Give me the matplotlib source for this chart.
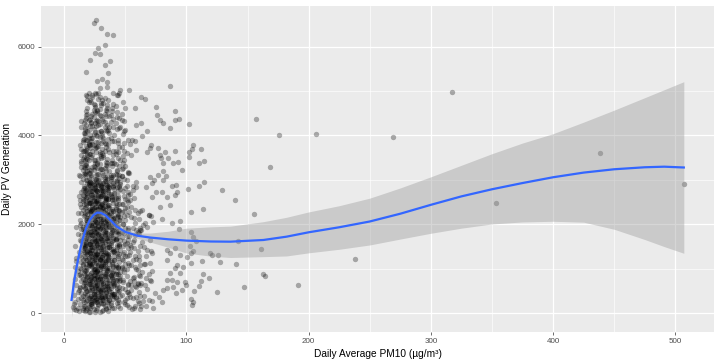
import matplotlib
matplotlib.use("Agg")
import matplotlib.pyplot as plt
from matplotlib.ticker import MultipleLocator

# Dense cloud of days (PM10 in ug/m3, daily PV generation), estimated bin by bin
# from the picture since single points cannot be told apart there.
cloud_pm10 = [
    # 7-12
    7, 8, 8, 9, 9, 10, 10, 10, 11, 11,
    11, 11, 12, 12, 12, 9, 10, 11, 12, 8,
    12, 10, 11, 12, 9,
    # 13-16
    13, 14, 15, 13, 14, 15, 16, 13, 14, 15,
    14, 15, 16, 13, 14, 15, 16, 14, 15, 16,
    13, 14, 15, 16, 13, 14, 15, 16, 14, 15,
    16, 13, 14, 15, 16, 14, 15, 16, 13, 14,
    15, 16, 14, 15, 16, 13, 14, 15, 16, 15,
    14, 16, 15, 13, 16, 14, 15, 16, 14, 15,
    16, 14, 15, 16, 13, 15, 14, 16, 15, 16,
    13, 15, 16, 14, 15, 16, 14, 13, 16, 15,
    # 17-20
    17, 18, 19, 20, 17, 18, 19, 20, 17, 18,
    19, 20, 17, 18, 19, 20, 17, 18, 19, 20,
    18, 19, 20, 17, 18, 19, 20, 17, 18, 19,
    20, 17, 18, 19, 20, 17, 18, 19, 20, 17,
    18, 19, 20, 17, 18, 19, 20, 17, 18, 19,
    20, 17, 18, 19, 20, 17, 18, 19, 20, 17,
    18, 19, 20, 17, 18, 19, 20, 17, 18, 19,
    20, 17, 18, 19, 20, 17, 18, 19, 20, 17,
    18, 19, 20, 17, 18, 19, 20, 17, 18, 19,
    20, 17, 18, 19, 20, 17, 18, 19, 20, 17,
    19, 20, 17, 18, 19, 20, 17, 18, 19, 20,
    18, 19, 20, 17, 18, 19, 20, 17, 18, 19,
    20, 17, 18, 19, 20, 17, 18, 19, 20, 18,
    17, 18, 19, 20, 17, 18, 19, 20, 17, 18,
    19, 20, 17, 18, 19, 20, 17, 18, 19, 20,
    # 21-25
    21, 22, 23, 24, 25, 21, 22, 23, 24, 25,
    21, 22, 23, 24, 25, 21, 22, 23, 24, 25,
    23, 25, 22, 24, 21, 23, 25, 22, 24, 21,
    23, 25, 22, 24, 21, 23, 25, 22, 24, 21,
    24, 21, 25, 23, 22, 24, 21, 25, 23, 22,
    24, 21, 25, 23, 22, 24, 21, 25, 23, 22,
    22, 24, 21, 25, 23, 22, 24, 21, 25, 23,
    22, 24, 21, 25, 23, 22, 24, 21, 25, 23,
    25, 23, 21, 22, 24, 25, 23, 21, 22, 24,
    25, 23, 21, 22, 24, 25, 23, 21, 22, 24,
    21, 24, 22, 25, 23, 21, 24, 22, 25, 23,
    21, 24, 22, 25, 23, 21, 24, 22, 25, 23,
    22, 23, 24, 25, 21, 22, 23, 24, 25, 21,
    22, 23, 24, 25, 21, 22, 23, 24, 25, 21,
    24, 21, 23, 25, 22, 24, 21, 23, 25, 22,
    24, 21, 23, 25, 22, 24, 21, 23, 25, 22,
    23, 22, 25, 21, 24, 23, 22, 25, 21, 24,
    23, 22, 25, 21, 24, 23, 22, 25, 21, 24,
    25, 24, 22, 23, 21, 25, 24, 22, 23, 21,
    25, 24, 22, 23, 21, 25, 24, 22, 23, 21,
    # 26-30
    26, 27, 28, 29, 30, 26, 27, 28, 29, 30,
    26, 27, 28, 29, 30, 26, 27, 28, 29, 30,
    28, 30, 27, 29, 26, 28, 30, 27, 29, 26,
    28, 30, 27, 29, 26, 28, 30, 27, 29, 26,
    29, 26, 30, 28, 27, 29, 26, 30, 28, 27,
    29, 26, 30, 28, 27, 29, 26, 30, 28, 27,
    27, 29, 26, 30, 28, 27, 29, 26, 30, 28,
    27, 29, 26, 30, 28, 27, 29, 26, 30, 28,
    30, 28, 26, 27, 29, 30, 28, 26, 27, 29,
    30, 28, 26, 27, 29, 30, 28, 26, 27, 29,
    26, 29, 27, 30, 28, 26, 29, 27, 30, 28,
    26, 29, 27, 30, 28, 26, 29, 27, 30, 28,
    27, 28, 29, 30, 26, 27, 28, 29, 30, 26,
    27, 28, 29, 30, 26, 27, 28, 29, 30, 26,
    29, 26, 28, 30, 27, 29, 26, 28, 30, 27,
    29, 26, 28, 30, 27, 29, 26, 28, 30, 27,
    28, 27, 30, 26, 29, 28, 27, 30, 26, 29,
    28, 27, 30, 26, 29, 28, 27, 30, 26, 29,
    30, 29, 27, 28, 26, 30, 29, 27, 28, 26,
    30, 29, 27, 28, 26, 30, 29, 27, 28, 26,
    # 31-35
    31, 32, 33, 34, 35, 31, 32, 33, 34, 35,
    31, 32, 33, 34, 35, 31, 32, 33, 34, 35,
    33, 35, 32, 34, 31, 33, 35, 32, 34, 31,
    33, 35, 32, 34, 31, 33, 35, 32, 34, 31,
    34, 31, 35, 33, 32, 34, 31, 35, 33, 32,
    34, 31, 35, 33, 32, 34, 31, 35, 33, 32,
    32, 34, 31, 35, 33, 32, 34, 31, 35, 33,
    32, 34, 31, 35, 33, 32, 34, 31, 35, 33,
    35, 33, 31, 32, 34, 35, 33, 31, 32, 34,
    35, 33, 31, 32, 34, 35, 33, 31, 32, 34,
    31, 34, 32, 35, 33, 31, 34, 32, 35, 33,
    31, 34, 32, 35, 33, 31, 34, 32, 35, 33,
    32, 33, 34, 35, 31, 32, 33, 34, 35, 31,
    32, 33, 34, 35, 31, 32, 33, 34, 35, 31,
    34, 31, 33, 35, 32, 34, 31, 33, 35, 32,
    34, 31, 33, 35, 32, 34, 31, 33, 35, 32,
    33, 32, 35, 31, 34, 33, 32, 35, 31, 34,
    33, 32, 35, 31, 34, 33, 32, 35, 31, 34,
    # 36-40
    36, 37, 38, 39, 40, 36, 37, 38, 39, 40,
    36, 37, 38, 39, 40, 36, 37, 38, 39, 40,
    38, 40, 37, 39, 36, 38, 40, 37, 39, 36,
    38, 40, 37, 39, 36, 38, 40, 37, 39, 36,
    39, 36, 40, 38, 37, 39, 36, 40, 38, 37,
    39, 36, 40, 38, 37, 39, 36, 40, 38, 37,
    37, 39, 36, 40, 38, 37, 39, 36, 40, 38,
    37, 39, 36, 40, 38, 37, 39, 36, 40, 38,
    40, 38, 36, 37, 39, 40, 38, 36, 37, 39,
    40, 38, 36, 37, 39, 40, 38, 36, 37, 39,
    36, 39, 37, 40, 38, 36, 39, 37, 40, 38,
    36, 39, 37, 40, 38, 36, 39, 37, 40, 38,
    37, 38, 39, 40, 36, 37, 38, 39, 40, 36,
    37, 38, 39, 40, 36, 37, 38, 39, 40, 36,
    # 41-45
    41, 42, 43, 44, 45, 41, 42, 43, 44, 45,
    41, 42, 43, 44, 45, 41, 42, 43, 44, 45,
    43, 45, 42, 44, 41, 43, 45, 42, 44, 41,
    43, 45, 42, 44, 41, 43, 45, 42, 44, 41,
    44, 41, 45, 43, 42, 44, 41, 45, 43, 42,
    44, 41, 45, 43, 42, 44, 41, 45, 43, 42,
    42, 44, 41, 45, 43, 42, 44, 41, 45, 43,
    42, 44, 41, 45, 43, 42, 44, 41, 45, 43,
    45, 43, 41, 42, 44, 45, 43, 41, 42, 44,
    45, 43, 41, 42, 44, 45, 43, 41, 42, 44,
    41, 43, 45, 42, 44, 41, 43, 45, 42, 44,
    41, 43, 45, 42, 44, 41, 43, 45, 42, 44,
    # 46-52
    46, 47, 48, 49, 50, 51, 52, 46, 47, 48,
    49, 50, 51, 52, 46, 47, 48, 49, 50, 51,
    52, 46, 47, 48, 49, 50, 51, 52, 46, 47,
    48, 49, 50, 51, 52, 46, 47, 48, 49, 50,
    51, 52, 46, 47, 48, 49, 50, 51, 52, 46,
    47, 48, 49, 50, 51, 52, 46, 47, 48, 49,
    50, 51, 52, 46, 47, 48, 49, 50, 51, 52,
    46, 47, 48, 49, 50, 51, 52, 46, 47, 48,
    49, 50, 51, 52, 46, 47, 48, 49, 50, 51,
    52, 46, 47, 48, 49, 50, 51, 52, 47, 49,
    # 53-62
    53, 54, 55, 56, 57, 58, 59, 60, 61, 62,
    54, 56, 58, 60, 62, 53, 55, 57, 59, 61,
    55, 57, 59, 61, 53, 54, 56, 58, 60, 62,
    56, 58, 60, 62, 53, 55, 57, 59, 61, 54,
    57, 59, 61, 53, 55, 54, 56, 58, 60, 62,
    53, 55, 57, 59, 61, 54, 56, 58, 60, 62,
    58, 54, 60, 56, 62, 53, 59, 55, 61, 57,
    # 63-72
    63, 65, 67, 69, 71, 64, 66, 68, 70, 72,
    64, 66, 68, 70, 72, 63, 65, 67, 69, 71,
    65, 67, 69, 71, 63, 64, 66, 68, 70, 72,
]

cloud_pv = [
    # 7-12
    150, 420, 90, 260, 1510, 80, 640, 1180, 330, 1790,
    2250, 960, 60, 1380, 2630, 780, 1950, 120, 520, 220,
    3100, 1250, 470, 870, 1040,
    # 13-16
    210, 450, 780, 1020, 1260, 1540, 1820, 2100, 2380, 2660,
    2950, 3230, 3510, 3790, 340, 620, 910, 1150, 1430, 1700,
    1980, 2250, 2530, 2810, 3090, 3370, 3640, 3920, 4180, 70,
    160, 560, 850, 1100, 1390, 1620, 1940, 2190, 2460, 2720,
    3010, 3280, 3560, 3850, 4060, 1310, 1770, 2330, 2870, 1210,
    990, 690, 400, 1650, 2450, 2040, 2580, 3140, 3420, 3900,
    260, 720, 1080, 1470, 890, 1890, 3700, 2640, 300, 3640,
    2550, 110, 1550, 1890, 2780, 4280, 3290, 590, 980, 3460,
    # 17-20
    60, 280, 510, 740, 960, 1190, 1410, 1640, 1860, 2090,
    2310, 2540, 2760, 2990, 3210, 3440, 3660, 3890, 4110, 4340,
    4560, 4800, 150, 390, 620, 850, 1080, 1300, 1530, 1750,
    1980, 2200, 2430, 2650, 2880, 3100, 3330, 3550, 3780, 4000,
    4230, 120, 340, 570, 800, 1020, 1250, 1470, 1700, 1920,
    2150, 2370, 2600, 2820, 3050, 3270, 3500, 3720, 3950, 4170,
    4400, 4620, 230, 460, 690, 910, 1140, 1360, 1590, 1810,
    2040, 2260, 2490, 2710, 2940, 3160, 3390, 3610, 3840, 4060,
    80, 300, 520, 750, 980, 1200, 1430, 1650, 1880, 2100,
    2330, 2550, 2780, 3000, 3230, 3450, 3680, 3900, 4130, 4350,
    410, 650, 870, 1100, 1330, 1560, 1780, 2010, 2240, 2470,
    2700, 2920, 3150, 170, 500, 820, 1160, 1490, 1820, 2150,
    2480, 2810, 3140, 3470, 3800, 4130, 4470, 4880, 4750, 4900,
    580, 1040, 1370, 1700, 1250, 1960, 2620, 3590, 700, 1610,
    2060, 2900, 3330, 3770, 4490, 40, 1510, 2380, 3280, 1370,
    # 21-25
    40, 260, 530, 770, 990, 1270, 1490, 1760, 1980, 2250,
    2470, 2740, 2950, 3230, 3450, 3720, 3940, 4210, 4420, 4690,
    160, 380, 650, 870, 1140, 1360, 1630, 1850, 2120, 2340,
    2610, 2830, 3100, 3320, 3590, 3810, 4080, 4300, 4570, 4800,
    90, 350, 570, 840, 1060, 1330, 1550, 1820, 2040, 2310,
    2530, 2800, 3020, 3290, 3510, 3780, 4000, 4270, 4490, 4760,
    220, 440, 710, 930, 1200, 1420, 1690, 1910, 2180, 2400,
    2670, 2890, 3160, 3380, 3650, 3870, 4140, 4360, 4630, 4870,
    20, 290, 510, 780, 1000, 1270, 1490, 1760, 1980, 2250,
    2470, 2740, 2960, 3230, 3450, 3720, 3940, 4210, 4430, 4700,
    130, 360, 620, 860, 1110, 1350, 1600, 1830, 2090, 2330,
    2570, 2810, 3060, 3300, 3550, 3790, 4040, 4280, 4520, 4910,
    200, 350, 470, 620, 760, 910, 1050, 1190, 1320, 1470,
    1600, 1750, 1890, 2010, 2170, 2300, 2440, 2590, 2730, 2860,
    270, 400, 560, 690, 820, 980, 1110, 1240, 1400, 1530,
    1660, 1820, 1950, 2080, 2240, 2370, 2510, 2650, 2790, 2930,
    230, 380, 510, 660, 800, 930, 1080, 1220, 1350, 1500,
    1630, 1780, 1910, 2060, 2190, 2340, 2470, 2620, 2750, 2900,
    310, 440, 590, 720, 870, 1000, 1150, 1280, 1430, 1560,
    1710, 1840, 1990, 2120, 2270, 2400, 2550, 2680, 2830, 2960,
    # 26-30
    70, 310, 550, 800, 1040, 1290, 1530, 1780, 2020, 2270,
    2510, 2760, 3000, 3250, 3490, 3740, 3980, 4230, 4470, 4720,
    190, 420, 680, 910, 1170, 1400, 1660, 1890, 2150, 2380,
    2640, 2870, 3130, 3360, 3620, 3850, 4110, 4340, 4600, 4940,
    20, 260, 490, 740, 970, 1220, 1450, 1700, 1930, 2180,
    2410, 2660, 2890, 3140, 3370, 3620, 3850, 4100, 4330, 4580,
    120, 370, 600, 850, 1080, 1330, 1560, 1810, 2040, 2290,
    2520, 2770, 3000, 3250, 3480, 3730, 3960, 4210, 4440, 4830,
    240, 480, 710, 960, 1190, 1440, 1670, 1920, 2150, 2400,
    2630, 2880, 3110, 3360, 3590, 3840, 4070, 4320, 4550, 4860,
    330, 590, 820, 1080, 1310, 1570, 1800, 2060, 2290, 2550,
    2780, 3040, 3270, 3530, 3760, 4020, 4250, 4510, 4690, 4960,
    250, 390, 520, 670, 800, 950, 1080, 1230, 1360, 1510,
    1640, 1790, 1920, 2070, 2200, 2350, 2480, 2630, 2760, 2910,
    290, 430, 570, 710, 850, 990, 1130, 1270, 1410, 1550,
    1690, 1830, 1970, 2110, 2250, 2390, 2530, 2670, 2810, 2950,
    200, 340, 480, 630, 770, 910, 1060, 1200, 1340, 1490,
    1630, 1770, 1920, 2060, 2200, 2350, 2490, 2630, 2780, 2920,
    360, 500, 640, 780, 920, 1060, 1200, 1340, 1480, 1620,
    1760, 1900, 2040, 2180, 2320, 2460, 2600, 2740, 2880, 3020,
    # 31-35
    50, 290, 540, 780, 1020, 1270, 1510, 1750, 2000, 2240,
    2480, 2730, 2970, 3210, 3460, 3700, 3940, 4190, 4430, 4680,
    170, 400, 660, 890, 1150, 1380, 1640, 1870, 2130, 2360,
    2620, 2850, 3110, 3340, 3600, 3830, 4090, 4320, 4580, 4790,
    100, 340, 590, 830, 1070, 1320, 1560, 1800, 2050, 2290,
    2530, 2780, 3020, 3260, 3510, 3750, 3990, 4240, 4480, 4720,
    230, 470, 720, 960, 1200, 1450, 1690, 1930, 2180, 2420,
    2660, 2910, 3150, 3390, 3640, 3880, 4120, 4370, 4610, 4850,
    260, 400, 540, 690, 830, 970, 1120, 1260, 1400, 1550,
    1690, 1830, 1980, 2120, 2260, 2410, 2550, 2690, 2840, 2980,
    310, 450, 600, 740, 880, 1030, 1170, 1310, 1460, 1600,
    1740, 1890, 2030, 2170, 2320, 2460, 2600, 2750, 2890, 3030,
    210, 350, 490, 640, 780, 920, 1070, 1210, 1350, 1500,
    1640, 1780, 1930, 2070, 2210, 2360, 2500, 2640, 2790, 2930,
    130, 380, 620, 870, 1110, 1360, 1600, 1850, 2090, 2340,
    2580, 2830, 3070, 3320, 3560, 3810, 4050, 4300, 4540, 80,
    360, 520, 680, 840, 1000, 1160, 1320, 1480, 1640, 1800,
    1960, 2120, 2280, 2440, 2600, 2760, 2920, 3080, 3240, 3400,
    # 36-40
    60, 310, 560, 810, 1060, 1310, 1560, 1810, 2060, 2310,
    2560, 2810, 3060, 3310, 3560, 3810, 4060, 4310, 4560, 4700,
    180, 440, 690, 940, 1190, 1440, 1690, 1940, 2190, 2440,
    2690, 2940, 3190, 3440, 3690, 3940, 4190, 4440, 4620, 4800,
    120, 370, 620, 870, 1120, 1370, 1620, 1870, 2120, 2370,
    2620, 2870, 3120, 3370, 3620, 3870, 4120, 4370, 240, 500,
    290, 430, 580, 720, 860, 1010, 1150, 1290, 1440, 1580,
    1720, 1870, 2010, 2150, 2300, 2440, 2580, 2730, 2870, 3010,
    330, 480, 620, 760, 910, 1050, 1190, 1340, 1480, 1620,
    1770, 1910, 2050, 2200, 2340, 2480, 2630, 2770, 2910, 3060,
    250, 400, 540, 680, 830, 970, 1110, 1260, 1400, 1540,
    1690, 1830, 1970, 2120, 2260, 2400, 2550, 2690, 2830, 2980,
    150, 420, 690, 960, 1230, 1500, 1770, 2040, 2310, 2580,
    2850, 3120, 3390, 3660, 3930, 4200, 4470, 790, 1640, 2210,
    # 41-45
    110, 370, 630, 890, 1150, 1410, 1670, 1930, 2190, 2450,
    2710, 2970, 3230, 3490, 3750, 4010, 4270, 4530, 4900, 4960,
    230, 500, 760, 1020, 1280, 1540, 1800, 2060, 2320, 2580,
    2840, 3100, 3360, 3620, 3880, 4140, 4400, 4660, 170, 430,
    290, 440, 590, 740, 890, 1040, 1190, 1340, 1490, 1640,
    1790, 1940, 2090, 2240, 2390, 2540, 2690, 2840, 2990, 3140,
    340, 490, 640, 790, 940, 1090, 1240, 1390, 1540, 1690,
    1840, 1990, 2140, 2290, 2440, 2590, 2740, 2890, 3040, 3190,
    260, 520, 780, 1040, 1300, 1560, 1820, 2080, 2340, 2600,
    2860, 3120, 3380, 3640, 3900, 4160, 4420, 660, 1430, 2210,
    400, 560, 720, 880, 1040, 1200, 1360, 1520, 1680, 1840,
    2000, 2160, 2320, 2480, 2640, 2800, 2960, 3320, 3580, 3840,
    # 46-52
    130, 420, 710, 1000, 1290, 1580, 1870, 2160, 2450, 2740,
    3030, 3320, 3610, 3900, 4190, 4480, 4760, 260, 550, 840,
    1130, 1420, 1710, 2000, 2290, 2580, 2870, 3160, 3450, 3740,
    4030, 4320, 4610, 350, 640, 930, 1220, 1510, 1800, 2090,
    2380, 2670, 2960, 3250, 3540, 3830, 4120, 180, 470, 760,
    1050, 1340, 1630, 1920, 2210, 2500, 2790, 3080, 3370, 3660,
    300, 480, 660, 840, 1020, 1200, 1380, 1560, 1740, 1920,
    2100, 2280, 2460, 2640, 2820, 3000, 3180, 380, 560, 740,
    920, 1100, 1280, 1460, 1640, 1820, 2000, 2180, 2360, 2540,
    2720, 2900, 3080, 3260, 3440, 220, 990, 1640, 4350, 4090,
    # 53-62
    150, 1390, 630, 2870, 110, 1750, 590, 1830, 870, 2310,
    2550, 790, 2030, 270, 1510, 2280, 520, 1460, 1000, 240,
    1480, 720, 2960, 1200, 440, 2680, 1920, 160, 1400, 640,
    1200, 1040, 680, 1920, 3160, 2400, 1640, 1880, 2120, 360,
    2600, 2840, 480, 1320, 3560, 3800, 340, 1280, 650, 1080,
    1740, 1080, 820, 360, 1300, 1540, 2780, 620, 2260, 400,
    2320, 730, 970, 1610, 850, 1090, 1230, 2170, 1810, 2150,
    # 63-72
    170, 1480, 790, 300, 1410, 920, 2030, 540, 1650, 960,
    2330, 640, 1950, 760, 270, 1880, 390, 1300, 2210, 720,
    1120, 160, 880, 2180, 690, 1600, 1110, 1420, 1130, 1350,
]

# Points that stand apart and could be read one by one
sparse_pm10 = [
    25.7, 24.6, 30.3, 35.0, 39.9, 27.4, 33.4, 25.2, 29.0, 21.3,
    37.5, 33.1, 17.8, 35.8, 26.6, 30.7, 34.8, 29.3, 34.8, 20.2,
    25.2, 40.2, 42.9, 45.7, 52.8, 62.9, 66.4, 57.7, 74.9, 13.4,
    86.9, 90.5, 75.7, 78.7, 80.7, 90.7, 93.8, 86.4, 102.2, 58.5,
    62.6, 67.5, 63.4, 55.5, 58.0, 70.8, 58.8, 70.2, 76.6, 67.5,
    82.3, 85.2, 90.7, 79.0, 101.8, 105.0, 111.8, 104.5, 114.5, 110.2,
    78.4, 93.4, 89.3, 102.5, 96.2, 81.1, 81.1, 77.0, 83.4, 70.2,
    73.5, 81.1, 88.0, 91.6, 101.6, 92.1, 79.8, 75.2, 71.6, 83.9,
    90.7, 86.6, 78.4, 103.9, 79.8, 88.0, 94.8, 69.7, 73.0, 64.3,
    103.9, 105.2, 94.0, 62.0, 71.6, 67.0, 114.3, 110.4, 129.0, 139.7,
    113.9, 154.9, 168.0, 157.1, 175.7, 206.0, 268.9, 317.0, 438.3, 353.3,
    506.9, 238.3, 108.0, 142.6, 105.7, 103.9, 118.9, 120.8, 126.2, 161.2,
    112.6, 127.6, 140.7, 103.9, 113.4, 162.3, 164.5, 118.4, 112.0, 110.4,
    147.5, 125.4, 106.3, 191.3, 103.9, 105.2, 104.6, 94.8, 97.5, 94.8,
    98.9, 99.8, 96.2, 86.6, 90.7, 88.0, 91.6, 83.9, 88.9, 92.1,
    74.3, 79.8, 73.0, 62.0, 55.2, 64.8, 77.9, 81.1, 83.9, 92.1,
    100.3, 83.9, 86.6, 90.7, 83.9, 103.0,
]
sparse_pv = [
    6598, 6538, 6425, 6283, 6261, 5975, 6043, 5849, 5834, 5698,
    5683, 5586, 5428, 5399, 5233, 5264, 5203, 5062, 5098, 4963,
    4949, 4963, 4911, 5024, 5017, 4873, 4828, 4625, 4648, 4333,
    5114, 4558, 4461, 4349, 4288, 4349, 4371, 4176, 4252, 4236,
    4288, 4101, 3989, 3899, 3883, 3793, 3674, 3712, 3712, 3622,
    3629, 3501, 3651, 3501, 3636, 3790, 3696, 3700, 3426, 3388,
    3561, 3397, 3374, 3523, 3224, 3374, 3208, 3111, 3089, 3073,
    2999, 2999, 2864, 2893, 2790, 2736, 2736, 2736, 2623, 2623,
    2661, 2436, 2398, 2272, 2122, 2025, 2083, 2211, 2061, 1987,
    1822, 1723, 1890, 1874, 2925, 2848, 2947, 2871, 2774, 2549,
    2340, 2227, 3298, 4371, 4011, 4034, 3966, 4986, 3613, 2475,
    2916, 1228, 1627, 1633, 1408, 1350, 1350, 1312, 1312, 1453,
    1183, 1147, 1109, 1125, 884, 884, 839, 794, 720, 614,
    592, 479, 502, 643, 322, 261, 193, 1312, 1048, 900,
    711, 637, 524, 900, 1012, 749, 450, 562, 598, 711,
    450, 261, 112, 90, 90, 283, 360, 524, 749, 1087,
    1273, 1199, 1350, 1462, 1424, 1514,
]

# Smoother and its confidence band
fit_pm10 = [6, 8, 10, 12, 15, 18, 21, 24, 27, 30, 34, 38, 43, 50, 60, 70, 85, 100,
            120, 136, 163, 182, 200, 225, 250, 275, 300, 325, 350, 375, 400, 425,
            450, 475, 491, 507]
fit_pv = [300, 690, 1020, 1300, 1660, 1920, 2100, 2210, 2265, 2260, 2200, 2090, 1950,
          1830, 1745, 1705, 1665, 1635, 1615, 1611, 1649, 1724, 1822, 1935, 2065,
          2240, 2440, 2630, 2790, 2930, 3060, 3165, 3240, 3285, 3298, 3280]
fit_hi = [690, 970, 1250, 1490, 1810, 2040, 2200, 2305, 2355, 2345, 2280, 2170, 2030,
          1910, 1805, 1805, 1845, 1915, 1945, 1960, 2061, 2160, 2280, 2420, 2590,
          2820, 3070, 3330, 3590, 3830, 4040, 4300, 4570, 4850, 5030, 5210]
fit_lo = [-90, 410, 790, 1110, 1510, 1800, 2000, 2115, 2175, 2175, 2120, 2010, 1870,
          1750, 1685, 1605, 1485, 1355, 1285, 1255, 1274, 1290, 1360, 1440, 1537,
          1670, 1800, 1915, 2009, 2055, 2070, 2050, 1890, 1660, 1500, 1350]

pm10 = cloud_pm10 + sparse_pm10
pv = cloud_pv + sparse_pv

plt.rcParams["font.family"] = ["Liberation Sans", "DejaVu Sans"]

fig = plt.figure(figsize=(7.19, 3.6), dpi=100)
ax = fig.add_axes([41 / 719, 28 / 360, 673 / 719, 326 / 360])
ax.set_facecolor("#EBEBEB")
for s in ax.spines.values():
    s.set_visible(False)

ax.scatter(pm10, pv, s=15, c="black", alpha=0.3, linewidths=0, zorder=2)
ax.fill_between(fit_pm10, fit_lo, fit_hi, color="#999999", alpha=0.4, linewidth=0, zorder=3)
ax.plot(fit_pm10, fit_pv, color="#3366FF", linewidth=1.6, zorder=4)

ax.set_xlim(-19, 531.7)
ax.set_ylim(-421, 6913)
ax.xaxis.set_major_locator(MultipleLocator(100))
ax.xaxis.set_minor_locator(MultipleLocator(50))
ax.yaxis.set_major_locator(MultipleLocator(2000))
ax.yaxis.set_minor_locator(MultipleLocator(1000))
ax.set_axisbelow(True)
ax.grid(which="major", color="white", linewidth=0.9)
ax.grid(which="minor", color="white", linewidth=0.45)
ax.tick_params(which="major", length=2.2, width=0.5, color="#333333",
               labelsize=5.8, labelcolor="#4D4D4D", pad=2)
ax.tick_params(which="minor", length=0)

ax.set_xlabel("Daily Average PM10 (µg/m³)", fontsize=7.3, labelpad=3)
ax.set_ylabel("Daily PV Generation", fontsize=7.3, labelpad=4)

fig.savefig("out.png", dpi=100, facecolor="white")
